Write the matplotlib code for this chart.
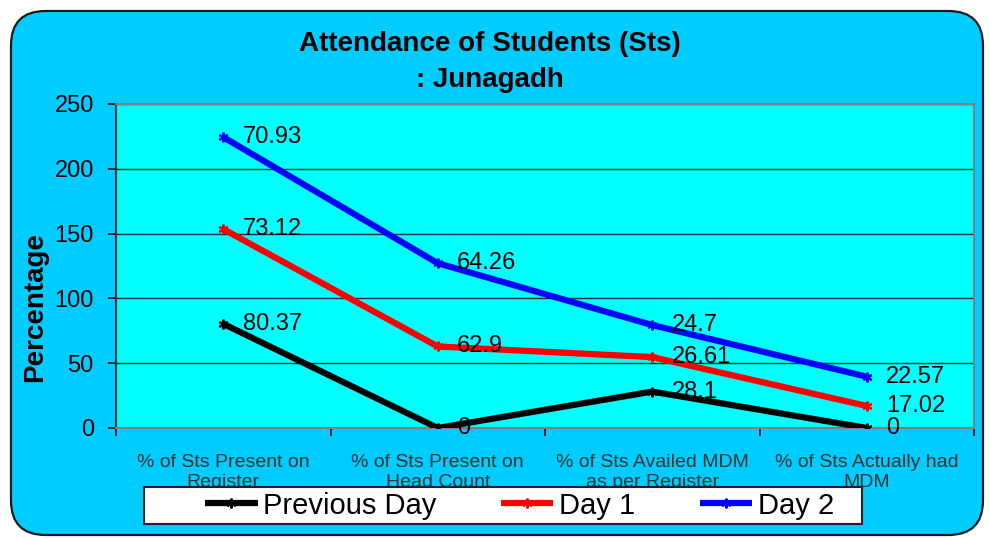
import matplotlib.pyplot as plt
import numpy as np
from matplotlib.patches import FancyBboxPatch, Rectangle

plt.rcParams['font.family'] = ['Liberation Sans', 'DejaVu Sans']

categories = ['% of Sts Present on\nRegister', '% of Sts Present on\nHead Count',
              '% of Sts Availed MDM\nas per Register', '% of Sts Actually had\nMDM']
series_names = ['Previous Day', 'Day 1', 'Day 2']
previous_day = [80.37, 0, 28.1, 0]
day1 = [73.12, 62.9, 26.61, 17.02]
day2 = [70.93, 64.26, 24.7, 22.57]
colors = ['black', 'red', 'blue']
yticks = [0, 50, 100, 150, 200, 250]

W, H = 989, 538
fig = plt.figure(figsize=(W / 100, H / 100), dpi=100)
fig.patch.set_facecolor('white')

# outer rounded panel
panel = FancyBboxPatch((11 / W, 1 - 535 / H), (983 - 11) / W, (535 - 11) / H,
                       boxstyle='round,pad=0,rounding_size=0.035',
                       transform=fig.transFigure, facecolor='#00CCFF',
                       edgecolor='#1a1a1a', lw=1.6, zorder=-10,
                       mutation_aspect=W / H)
fig.patches.append(panel)

ax = fig.add_axes([116 / W, 1 - 428 / H, (974 - 116) / W, (428 - 104) / H])
ax.set_facecolor('#00FFFF')

x = np.arange(len(categories))
data = np.array([previous_day, day1, day2])
stacked = np.cumsum(data, axis=0)

for name, vals, cum, c in zip(series_names, data, stacked, colors):
    ax.plot(x, cum, color=c, lw=4.5, marker=(6, 2, 0), ms=7, mew=1.5,
            solid_capstyle='butt', label=name, zorder=3)
    for xi, v, cy in zip(x, vals, cum):
        ax.annotate('{:g}'.format(v), (xi, cy), xytext=(14, 0),
                    textcoords='offset points', va='center', ha='left',
                    fontsize=17, color='black', zorder=4)

ax.set_xlim(-0.5, len(categories) - 0.5)
ax.set_ylim(0, 250)
ax.set_yticks(yticks)
ax.tick_params(axis='y', labelsize=17, length=6, width=1.2, pad=10, colors='black')
ax.yaxis.grid(True, color='#2b2b2b', lw=1)
ax.set_axisbelow(True)

ax.set_xticks(np.arange(-0.5, len(categories), 1.0))
ax.set_xticklabels([])
ax.tick_params(axis='x', which='major', length=6, width=1.2, direction='out')
ax.set_xticks(x, minor=True)
ax.set_xticklabels(categories, minor=True)
ax.tick_params(axis='x', which='minor', length=0, pad=19, labelsize=14,
               labelcolor='#333333')

for side in ['top', 'right', 'bottom']:
    ax.spines[side].set_color('#808080')
    ax.spines[side].set_linewidth(1.5)
ax.spines['left'].set_color('#333333')
ax.spines['left'].set_linewidth(1.5)

fig.text(490 / W, 1 - 62 / H, 'Attendance of Students (Sts)\n: Junagadh',
         ha='center', va='center', fontsize=20, fontweight='bold',
         linespacing=1.5)
fig.text(35 / W, 1 - 307 / H, 'Percentage', rotation=90, ha='center',
         va='center', fontsize=20, fontweight='bold')

# legend box
box = Rectangle((144 / W, 1 - 524 / H), (862 - 144) / W, (524 - 487) / H,
                transform=fig.transFigure, facecolor='white',
                edgecolor='#222222', lw=1.5, zorder=4)
fig.patches.append(box)
fig.legend(loc='center left', bbox_to_anchor=(205 / W, 1 - 505.5 / H),
           ncol=3, frameon=False, fontsize=21, borderpad=0, borderaxespad=0,
           handlelength=1.8, handletextpad=0.2, columnspacing=2.2)

fig.savefig('out.png', dpi=100)
